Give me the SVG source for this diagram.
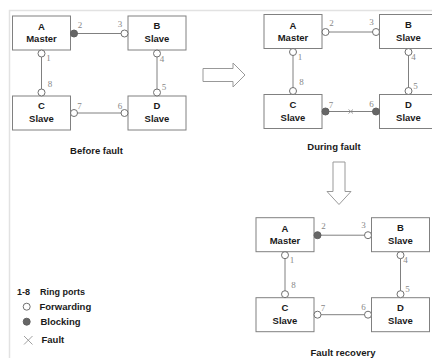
<svg xmlns="http://www.w3.org/2000/svg" width="432" height="358" viewBox="0 0 432 358">
<style>
.box{fill:#fff;stroke:#808080;stroke-width:1}
.nt{font-family:"Liberation Sans",Arial,sans-serif;font-weight:bold;font-size:9.5px;fill:#1a1a1a;text-anchor:middle}
.lnk{stroke:#808080;stroke-width:1;fill:none}
.fw{fill:#fff;stroke:#707070;stroke-width:1}
.bk{fill:#666;stroke:#606060;stroke-width:1}
.pl{font-family:"Liberation Serif","Times New Roman",serif;font-size:9px;fill:#888;text-anchor:middle}
.cap{font-family:"Liberation Sans",Arial,sans-serif;font-weight:bold;font-size:9.5px;fill:#1a1a1a;text-anchor:middle}
.lg{font-family:"Liberation Sans",Arial,sans-serif;font-weight:bold;font-size:9.5px;fill:#1a1a1a}
.arr{fill:#fff;stroke:#999;stroke-width:1}
.frame{stroke:#e2e2e2;stroke-width:1.5;fill:none}
.x{stroke:#888;stroke-width:0.8;fill:none}
</style>
<g id="frame">
<path class="frame" d="M9.5,358 V10.5 H432"/>
</g>

<!-- Panel 1: Before fault -->
<g id="panel-before">
<g id="p1-connectors">
<line class="lnk" x1="74" y1="33.5" x2="124.5" y2="33.5"/>
<line class="lnk" x1="41.5" y1="53.5" x2="41.5" y2="92.5"/>
<line class="lnk" x1="157" y1="53.5" x2="157" y2="92.5"/>
<line class="lnk" x1="74" y1="113" x2="124.5" y2="113"/>
</g>
<g id="p1-A"><rect class="box" x="12.5" y="16" width="58" height="34"/><text class="nt" x="41.5" y="30">A</text><text class="nt" x="41.5" y="42">Master</text></g>
<g id="p1-B"><rect class="box" x="128" y="16" width="58" height="34"/><text class="nt" x="157" y="29">B</text><text class="nt" x="157" y="42">Slave</text></g>
<g id="p1-C"><rect class="box" x="12.5" y="96" width="58" height="34"/><text class="nt" x="41.5" y="109">C</text><text class="nt" x="41.5" y="122">Slave</text></g>
<g id="p1-D"><rect class="box" x="128" y="96" width="58" height="34"/><text class="nt" x="157" y="109">D</text><text class="nt" x="157" y="122">Slave</text></g>
<g id="p1-ports">
<circle class="bk" cx="74" cy="33.5" r="3.5"/>
<circle class="fw" cx="124.5" cy="33.5" r="3.5"/>
<circle class="fw" cx="41.5" cy="53.5" r="3.5"/>
<circle class="fw" cx="41.5" cy="92.5" r="3.5"/>
<circle class="fw" cx="157" cy="53.5" r="3.5"/>
<circle class="fw" cx="157" cy="92.5" r="3.5"/>
<circle class="fw" cx="74" cy="113" r="3.5"/>
<circle class="fw" cx="124.5" cy="113" r="3.5"/>
</g>
<g id="p1-labels">
<text class="pl" x="80" y="27.5">2</text>
<text class="pl" x="120" y="26.5">3</text>
<text class="pl" x="48.5" y="61">1</text>
<text class="pl" x="162" y="61.5">4</text>
<text class="pl" x="50" y="86.5">8</text>
<text class="pl" x="164" y="90">5</text>
<text class="pl" x="79.5" y="109">7</text>
<text class="pl" x="120" y="108.5">6</text>
</g>
</g>
<text class="cap" x="96.5" y="153.5">Before fault</text>

<!-- Panel 2: During fault -->
<g id="panel-during" transform="translate(251.5,-1.5)">
<g id="p2-connectors">
<line class="lnk" x1="74" y1="33.5" x2="124.5" y2="33.5"/>
<line class="lnk" x1="41.5" y1="53.5" x2="41.5" y2="92.5"/>
<line class="lnk" x1="157" y1="53.5" x2="157" y2="92.5"/>
<line class="lnk" x1="74" y1="113" x2="124.5" y2="113"/>
<path class="x" d="M97,111 L101.5,115 M101.5,111 L97,115"/>
</g>
<g id="p2-A"><rect class="box" x="12.5" y="16" width="58" height="34"/><text class="nt" x="41.5" y="30">A</text><text class="nt" x="41.5" y="42">Master</text></g>
<g id="p2-B"><rect class="box" x="128" y="16" width="58" height="34"/><text class="nt" x="157" y="29">B</text><text class="nt" x="157" y="42">Slave</text></g>
<g id="p2-C"><rect class="box" x="12.5" y="96" width="58" height="34"/><text class="nt" x="41.5" y="109">C</text><text class="nt" x="41.5" y="122">Slave</text></g>
<g id="p2-D"><rect class="box" x="128" y="96" width="58" height="34"/><text class="nt" x="157" y="109">D</text><text class="nt" x="157" y="122">Slave</text></g>
<g id="p2-ports">
<circle class="fw" cx="74" cy="33.5" r="3.5"/>
<circle class="fw" cx="124.5" cy="33.5" r="3.5"/>
<circle class="fw" cx="41.5" cy="53.5" r="3.5"/>
<circle class="fw" cx="41.5" cy="92.5" r="3.5"/>
<circle class="fw" cx="157" cy="53.5" r="3.5"/>
<circle class="fw" cx="157" cy="92.5" r="3.5"/>
<circle class="bk" cx="74" cy="113" r="3.5"/>
<circle class="bk" cx="124.5" cy="113" r="3.5"/>
</g>
<g id="p2-labels">
<text class="pl" x="80" y="27.5">2</text>
<text class="pl" x="120" y="26.5">3</text>
<text class="pl" x="48.5" y="61">1</text>
<text class="pl" x="162" y="61.5">4</text>
<text class="pl" x="50" y="86.5">8</text>
<text class="pl" x="164" y="90">5</text>
<text class="pl" x="79.5" y="109">7</text>
<text class="pl" x="120" y="108.5">6</text>
</g>
</g>
<text class="cap" x="334" y="150">During fault</text>

<!-- Panel 3: Fault recovery -->
<g id="panel-recovery" transform="translate(243.5,201.7)">
<g id="p3-connectors">
<line class="lnk" x1="74" y1="33.5" x2="124.5" y2="33.5"/>
<line class="lnk" x1="41.5" y1="53.5" x2="41.5" y2="92.5"/>
<line class="lnk" x1="157" y1="53.5" x2="157" y2="92.5"/>
<line class="lnk" x1="74" y1="113" x2="124.5" y2="113"/>
</g>
<g id="p3-A"><rect class="box" x="12.5" y="16" width="58" height="34"/><text class="nt" x="41.5" y="30">A</text><text class="nt" x="41.5" y="42">Master</text></g>
<g id="p3-B"><rect class="box" x="128" y="16" width="58" height="34"/><text class="nt" x="157" y="29">B</text><text class="nt" x="157" y="42">Slave</text></g>
<g id="p3-C"><rect class="box" x="12.5" y="96" width="58" height="34"/><text class="nt" x="41.5" y="109">C</text><text class="nt" x="41.5" y="122">Slave</text></g>
<g id="p3-D"><rect class="box" x="128" y="96" width="58" height="34"/><text class="nt" x="157" y="109">D</text><text class="nt" x="157" y="122">Slave</text></g>
<g id="p3-ports">
<circle class="bk" cx="74" cy="33.5" r="3.5"/>
<circle class="fw" cx="124.5" cy="33.5" r="3.5"/>
<circle class="fw" cx="41.5" cy="53.5" r="3.5"/>
<circle class="fw" cx="41.5" cy="92.5" r="3.5"/>
<circle class="fw" cx="157" cy="53.5" r="3.5"/>
<circle class="fw" cx="157" cy="92.5" r="3.5"/>
<circle class="fw" cx="74" cy="113" r="3.5"/>
<circle class="fw" cx="124.5" cy="113" r="3.5"/>
</g>
<g id="p3-labels">
<text class="pl" x="80" y="27.5">2</text>
<text class="pl" x="120" y="26.5">3</text>
<text class="pl" x="48.5" y="61">1</text>
<text class="pl" x="162" y="61.5">4</text>
<text class="pl" x="50" y="86.5">8</text>
<text class="pl" x="164" y="90">5</text>
<text class="pl" x="79.5" y="109">7</text>
<text class="pl" x="120" y="108.5">6</text>
</g>
</g>
<text class="cap" x="343" y="356">Fault recovery</text>

<!-- Transition arrows -->
<g id="arrows">
<path class="arr" d="M203,68.5 H233 V63 L245,75 L233,87 V81.5 H203 Z"/>
<path class="arr" d="M333,162 V191.5 H327 L339,204.5 L351,191.5 H345 V162 Z"/>
</g>

<!-- Legend -->
<g id="legend">
<text class="lg" x="17" y="295" style="font-size:9px">1-8</text>
<text class="lg" x="40" y="295" style="font-size:9px">Ring ports</text>
<circle class="fw" cx="26.7" cy="306.7" r="3.5"/>
<text class="lg" x="39.5" y="310">Forwarding</text>
<circle class="bk" cx="26.7" cy="321.7" r="3.5"/>
<text class="lg" x="40.5" y="325">Blocking</text>
<path class="x" d="M24,336 L32.5,344.5 M32.5,336 L24,344.5"/>
<text class="lg" x="41.5" y="343">Fault</text>
</g>
</svg>
